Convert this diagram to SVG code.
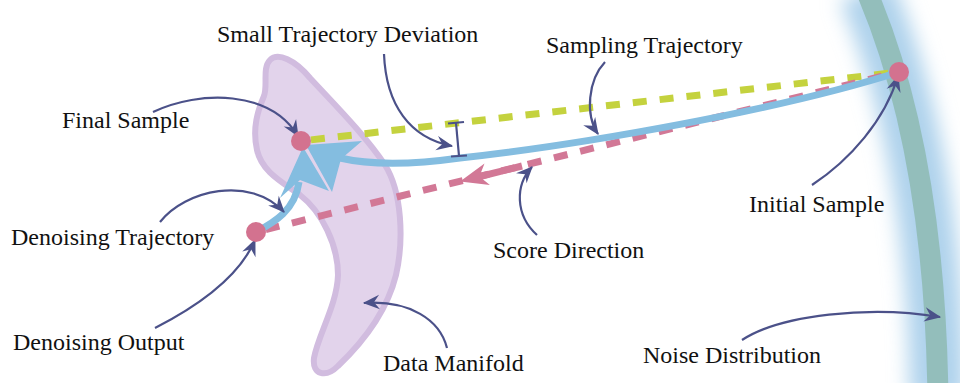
<svg xmlns="http://www.w3.org/2000/svg" width="960" height="383" viewBox="0 0 960 383">
<defs>
<style>
.ann{fill:none;stroke:#4b5189;stroke-width:2.2;marker-end:url(#nav)}
.pt{fill:#d3728f}
.blue{fill:none;stroke:#84bde0;stroke-width:7}
</style>
<marker id="nav" markerUnits="userSpaceOnUse" markerWidth="20" markerHeight="20" viewBox="-16 -8 18 16" refX="0" refY="0" orient="auto">
<path d="M1,0 L-14,-6.5 L-9,0 L-14,6.5 Z" fill="#4b5189"/>
</marker>
<filter id="glow" x="-2" y="-0.2" width="5" height="1.4">
<feGaussianBlur stdDeviation="10"/>
</filter>
</defs>
<rect width="960" height="383" fill="#fff"/>

<g id="noise-distribution">
<path d="M 866,-10 Q 935,150 938,400" fill="none" stroke="#aed2ec" stroke-width="56" filter="url(#glow)"/>
<path d="M 866,-10 Q 935,150 938,400" fill="none" stroke="#93bebb" stroke-width="21"/>
</g>

<g id="data-manifold">
<path d="M 270,60 C 278,52 295,60 310,78 C 335,105 365,135 385,165 C 402,192 404,240 396,275 C 386,315 360,345 338,366 C 326,378 312,375 314,358 C 318,335 337,305 338,275 C 338,245 322,212 300,195 C 282,182 262,172 257,150 C 252,128 258,110 264,96 C 268,85 262,68 270,60 Z" fill="#e2d3eb" stroke="#d1bcdf" stroke-width="6"/>
</g>

<g id="connectors">
<line x1="301" y1="141" x2="899" y2="72" stroke="#c4d23e" stroke-width="7" stroke-dasharray="14 13" stroke-dashoffset="-10"/>
<line x1="256" y1="232" x2="899" y2="72" stroke="#d27896" stroke-width="7" stroke-dasharray="14 13" stroke-dashoffset="-10"/>
<line x1="522" y1="166" x2="476" y2="177.5" stroke="#d27896" stroke-width="7"/>
<path d="M 460,181.5 L 489.9,184.9 L 479.4,176.6 L 484.5,163.5 Z" fill="#d27896"/>
<path id="sampling-trajectory" class="blue" d="M 899,72 C 780,110 580,145 460,158 C 410,165 370,165 340,158"/>
<path d="M 306,145 L 362,141 L 341,159 L 332,192 Z" fill="#84bde0"/>
<path id="denoising-trajectory" class="blue" d="M 256,232 C 275,222 295,210 299,182"/>
<path d="M 303,147 L 329,191 L 300,180 L 280,198 Z" fill="#84bde0"/>
<g stroke="#4b5189" stroke-width="2.2" fill="none">
<line x1="456" y1="123" x2="459" y2="156"/>
<line x1="448" y1="123.5" x2="464" y2="122"/>
<line x1="451" y1="156.5" x2="467" y2="155.5"/>
</g>
<path class="ann" d="M 384,54 C 386,105 410,138 452,146"/>
<path class="ann" d="M 605,62 C 588,80 585,115 598,134"/>
<path class="ann" d="M 153,112 C 200,90 270,90 298,136"/>
<path class="ann" d="M 160,222 C 185,190 250,175 284,212"/>
<path class="ann" d="M 155,328 C 200,305 240,275 255,240"/>
<path class="ann" d="M 812,185 C 850,160 885,120 898,76"/>
<path class="ann" d="M 537,235 C 515,215 515,185 532,167"/>
<path class="ann" d="M 447,348 C 440,320 410,300 364,303"/>
<path class="ann" d="M 742,340 C 780,315 870,305 940,317"/>
</g>

<g id="final-sample"><circle class="pt" cx="301" cy="141" r="10"/></g>
<g id="denoising-output"><circle class="pt" cx="256" cy="232" r="10"/></g>
<g id="initial-sample"><circle class="pt" cx="899" cy="72" r="10"/></g>

<g id="labels" font-family="'Liberation Serif', 'Times New Roman', 'DejaVu Serif', serif" font-size="24" fill="#111">
<text x="217" y="42">Small Trajectory Deviation</text>
<text x="546" y="53">Sampling Trajectory</text>
<text x="62" y="128">Final Sample</text>
<text x="11" y="245">Denoising Trajectory</text>
<text x="749" y="212">Initial Sample</text>
<text x="493" y="258">Score Direction</text>
<text x="13" y="350">Denoising Output</text>
<text x="383" y="371">Data Manifold</text>
<text x="643" y="363">Noise Distribution</text>
</g>
</svg>
